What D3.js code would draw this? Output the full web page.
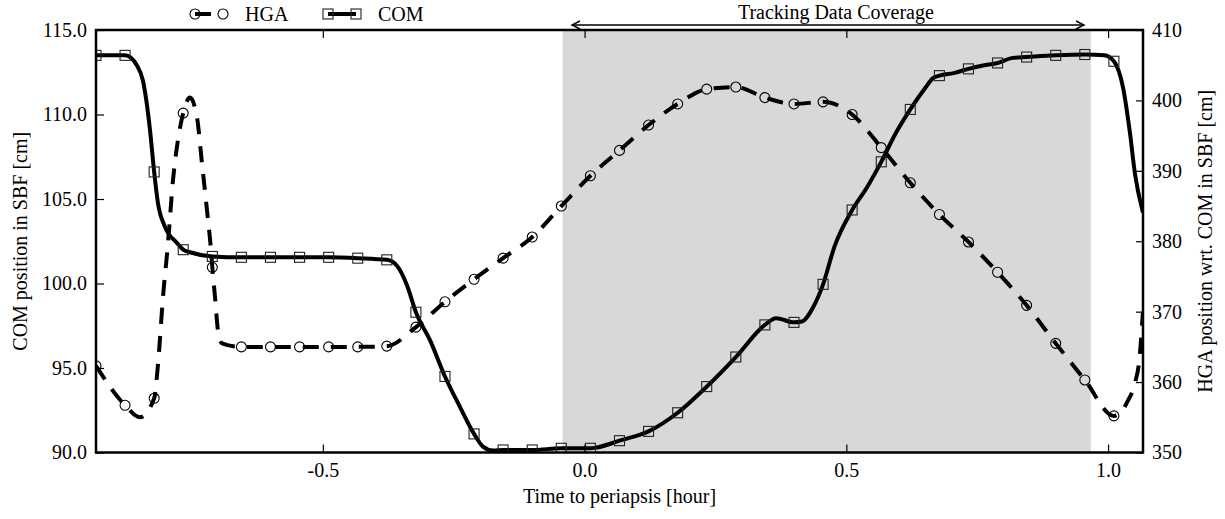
<!DOCTYPE html>
<html>
<head>
<meta charset="utf-8">
<script src="https://cdn.jsdelivr.net/npm/d3@7"></script>
<style>
  body { margin: 0; background: #fff; }
  svg { display: block; font-family: "Liberation Serif", "DejaVu Serif", serif; }
</style>
</head>
<body>
<div id="chart"></div>
<script>
// marker times, hours to periapsis (one marker every 200 s)
const markerTimes = [
  -0.9333, -0.8778, -0.8222, -0.7667, -0.7111, -0.6556, -0.6000, -0.5444, -0.4889,
  -0.4333, -0.3778, -0.3222, -0.2667, -0.2111, -0.1556, -0.1000, -0.0444, 0.0111,
  0.0667, 0.1222, 0.1778, 0.2333, 0.2889, 0.3444, 0.4000, 0.4556, 0.5111,
  0.5667, 0.6222, 0.6778, 0.7333, 0.7889, 0.8444, 0.9000, 0.9556, 1.0111
];
// COM position in SBF [cm] (left axis) at marker times
const comMarkers = [
  113.5, 113.5, 106.6, 102.0, 101.6, 101.55, 101.55, 101.55, 101.55,
  101.5, 101.4, 98.3, 94.5, 91.1, 90.15, 90.15, 90.25, 90.25,
  90.7, 91.25, 92.35, 93.9, 95.65, 97.55, 97.7, 99.95, 104.35,
  107.2, 110.3, 112.3, 112.7, 113.05, 113.4, 113.5, 113.55, 113.15
];
// HGA position wrt. COM [cm] (right axis) at marker times
const hgaMarkers = [
  362.3, 356.7, 357.7, 398.2, 376.3, 365.0, 365.0, 365.0, 365.0,
  365.0, 365.1, 367.8, 371.4, 374.6, 377.6, 380.6, 385.0, 389.3,
  392.9, 396.5, 399.5, 401.6, 401.9, 400.4, 399.5, 399.8, 398.0,
  393.3, 388.3, 383.8, 379.9, 375.6, 370.9, 365.5, 360.3, 355.2
];
// extra line samples between markers
const comExtraTimes = [
  -0.855, -0.8436, -0.8302, -0.8149, -0.8015, -0.7786, -0.7538,
  -0.3584, -0.3393, -0.2953, -0.2381, -0.1941, -0.175, 0.0237,
  0.3656, 0.415, 0.4366, 0.4775, 0.5396, 0.5946, 0.6503, 0.6656,
  0.705, 0.761, 0.8183, 0.993, 1.0285, 1.0418, 1.0513, 1.0666
];
const comExtraValues = [
  112.9, 112.0, 109.1, 104.75, 103.35, 102.4, 101.85,
  101.05, 99.9, 96.65, 92.7, 90.35, 90.12, 90.3,
  97.95, 97.75, 98.6, 102.2, 105.7, 108.9, 111.55, 112.15,
  112.45, 112.9, 113.35, 113.5, 111.6, 108.9, 106.5, 104.2
];
const hgaExtraTimes = [
  -0.8494, -0.8149, -0.8053, -0.7958, -0.7862, -0.7767, -0.7538,
  -0.7404, -0.7309, -0.7213, -0.7137, -0.7060, -0.7004, -0.6927,
  1.0233, 1.0367, 1.0519, 1.0595, 1.0666
];
const hgaExtraValues = [
  355.0, 362.5, 372.1, 379.7, 388.7, 394.4, 400.4,
  397.6, 391.1, 384.4, 378.8, 372.1, 367.4, 365.5,
  355.6, 357.2, 360.0, 363.0, 370.0
];
const xTicks = [-0.5, 0.0, 0.5, 1.0];
const comTicks = [90, 95, 100, 105, 110, 115];
const hgaTicks = [350, 360, 370, 380, 390, 400, 410];
const coverage = [-0.042, 0.967];
const coverageArrow = [-0.024, 0.954];

const W = 1225, H = 519;
const pl = 96, pr = 1143, pt = 30, pb = 452.5;
const FS = 20;

const x = d3.scaleLinear().domain([-0.9333, 1.0667]).range([pl, pr]);
const yL = d3.scaleLinear().domain([90, 115]).range([pb, pt]);
const yR = d3.scaleLinear().domain([350, 410]).range([pb, pt]);

function series(times, vals, exT, exV) {
  const pts = times.map((t, i) => ({ t: t, v: vals[i] }))
    .concat(exT.map((t, i) => ({ t: t, v: exV[i] })));
  pts.sort((a, b) => a.t - b.t);
  return pts;
}
const comLine = series(markerTimes, comMarkers, comExtraTimes, comExtraValues);
const hgaLine = series(markerTimes, hgaMarkers, hgaExtraTimes, hgaExtraValues);

const svg = d3.select("#chart").append("svg")
  .attr("width", W).attr("height", H);

svg.append("defs").append("clipPath").attr("id", "plot")
  .append("rect").attr("x", pl).attr("y", pt)
  .attr("width", pr - pl).attr("height", pb - pt);

// tracking coverage shading
svg.append("rect")
  .attr("x", x(coverage[0])).attr("y", pt)
  .attr("width", x(coverage[1]) - x(coverage[0]))
  .attr("height", pb - pt)
  .attr("fill", "#d8d8d8");

const plot = svg.append("g").attr("clip-path", "url(#plot)");

plot.append("path").datum(hgaLine)
  .attr("fill", "none").attr("stroke", "#000").attr("stroke-width", 4)
  .attr("stroke-dasharray", "16,12")
  .attr("d", d3.line().x(d => x(d.t)).y(d => yR(d.v)).curve(d3.curveMonotoneX));

plot.append("path").datum(comLine)
  .attr("fill", "none").attr("stroke", "#000").attr("stroke-width", 4)
  .attr("d", d3.line().x(d => x(d.t)).y(d => yL(d.v)).curve(d3.curveMonotoneX));

// markers
plot.selectAll(".hga").data(markerTimes).enter().append("circle")
  .attr("cx", d => x(d)).attr("cy", (d, i) => yR(hgaMarkers[i])).attr("r", 5)
  .attr("fill", "none").attr("stroke", "#000").attr("stroke-width", 1.1);

plot.selectAll(".com").data(markerTimes).enter().append("rect")
  .attr("x", d => x(d) - 5).attr("y", (d, i) => yL(comMarkers[i]) - 5)
  .attr("width", 10).attr("height", 10)
  .attr("fill", "none").attr("stroke", "#222").attr("stroke-width", 1.1);

// axes
function styleAxis(g) {
  g.select(".domain").remove();
  g.selectAll("line").attr("stroke", "#000").attr("stroke-width", 1.2);
  g.selectAll("text").attr("fill", "#000");
  g.attr("font-size", FS).attr("font-family", null);
}
svg.append("g").attr("transform", `translate(0,${pb})`)
  .call(d3.axisBottom(x).tickValues(xTicks).tickSizeInner(-8).tickSizeOuter(0)
    .tickPadding(10).tickFormat(d => d.toFixed(1)))
  .call(styleAxis);
svg.append("g").attr("transform", `translate(0,${pt})`)
  .call(d3.axisTop(x).tickValues(xTicks).tickSizeInner(-8).tickSizeOuter(0).tickFormat(""))
  .call(styleAxis);
svg.append("g").attr("transform", `translate(${pl},0)`)
  .call(d3.axisLeft(yL).tickValues(comTicks).tickSizeInner(-8).tickSizeOuter(0)
    .tickPadding(9).tickFormat(d => d.toFixed(1)))
  .call(styleAxis);
svg.append("g").attr("transform", `translate(${pr},0)`)
  .call(d3.axisRight(yR).tickValues(hgaTicks).tickSizeInner(-7).tickSizeOuter(0)
    .tickPadding(9).tickFormat(d => String(d)))
  .call(styleAxis);

svg.append("rect")
  .attr("x", pl).attr("y", pt).attr("width", pr - pl).attr("height", pb - pt)
  .attr("fill", "none").attr("stroke", "#000").attr("stroke-width", 2.5);

// axis titles
svg.append("text").attr("x", (pl + pr) / 2).attr("y", 503)
  .attr("text-anchor", "middle").attr("font-size", FS)
  .text("Time to periapsis [hour]");
svg.append("text").attr("transform", `translate(20,${(pt + pb) / 2}) rotate(-90)`)
  .attr("dy", "0.35em").attr("text-anchor", "middle").attr("font-size", FS)
  .text("COM position in SBF [cm]");
svg.append("text").attr("transform", `translate(1205,${(pt + pb) / 2}) rotate(-90)`)
  .attr("dy", "0.35em").attr("text-anchor", "middle").attr("font-size", FS)
  .text("HGA position wrt. COM in SBF [cm]");

// tracking coverage annotation
const ay = 25;
const ax0 = x(coverageArrow[0]), ax1 = x(coverageArrow[1]);
const ann = svg.append("g").attr("stroke", "#000").attr("fill", "none").attr("stroke-width", 1.4);
ann.append("line").attr("x1", ax0).attr("x2", ax1).attr("y1", ay).attr("y2", ay);
ann.append("path").attr("d", `M${ax0 + 8},${ay - 4}L${ax0},${ay}L${ax0 + 8},${ay + 4}`);
ann.append("path").attr("d", `M${ax1 - 8},${ay - 4}L${ax1},${ay}L${ax1 - 8},${ay + 4}`);
svg.append("text").attr("x", x(0.48)).attr("y", 19)
  .attr("text-anchor", "middle").attr("font-size", FS)
  .text("Tracking Data Coverage");

// legend
const ly = 14;
const leg = svg.append("g");
leg.append("line").attr("x1", 195).attr("x2", 223).attr("y1", ly).attr("y2", ly)
  .attr("stroke", "#000").attr("stroke-width", 4).attr("stroke-dasharray", "16,12");
[195, 223].forEach(cx => leg.append("circle").attr("cx", cx).attr("cy", ly).attr("r", 5)
  .attr("fill", "none").attr("stroke", "#000").attr("stroke-width", 1.1));
leg.append("text").attr("x", 245).attr("y", ly).attr("dy", "0.35em")
  .attr("font-size", FS).text("HGA");
leg.append("line").attr("x1", 328).attr("x2", 356).attr("y1", ly).attr("y2", ly)
  .attr("stroke", "#000").attr("stroke-width", 4);
[328, 356].forEach(cx => leg.append("rect").attr("x", cx - 5).attr("y", ly - 5)
  .attr("width", 10).attr("height", 10)
  .attr("fill", "none").attr("stroke", "#222").attr("stroke-width", 1.1));
leg.append("text").attr("x", 378).attr("y", ly).attr("dy", "0.35em")
  .attr("font-size", FS).text("COM");
</script>
</body>
</html>
